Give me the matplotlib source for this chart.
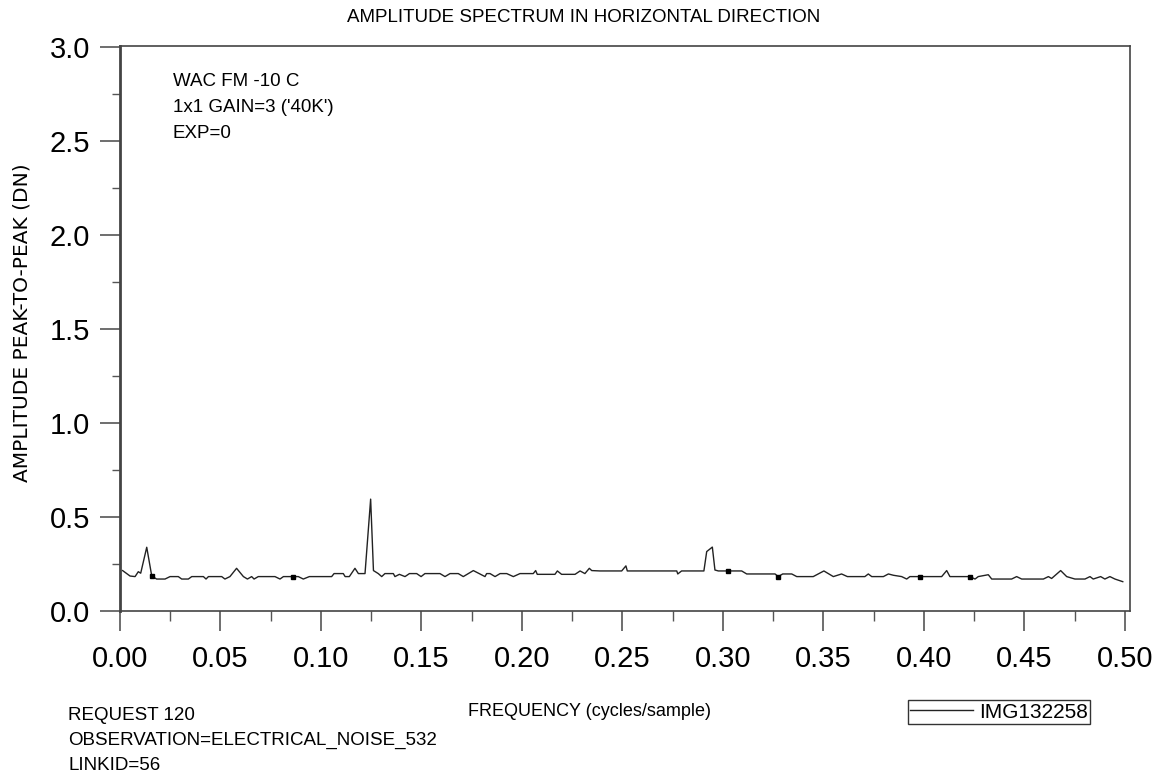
import matplotlib.pyplot as plt
from matplotlib.ticker import MultipleLocator

# amplitude spectrum
freq = [0.0013, 0.0050, 0.0075, 0.0091, 0.0103, 0.0133, 0.0158, 0.0182, 0.0224, 0.0249,
        0.0290, 0.0307, 0.0340, 0.0357, 0.0415, 0.0428, 0.0440, 0.0506, 0.0522, 0.0547,
        0.0580, 0.0614, 0.0634, 0.0655, 0.0667, 0.0688, 0.0771, 0.0796, 0.0813, 0.0862,
        0.0887, 0.0912, 0.0942, 0.1053, 0.1065, 0.1111, 0.1120, 0.1141, 0.1169, 0.1186,
        0.1219, 0.1247, 0.1261, 0.1285, 0.1302, 0.1318, 0.1360, 0.1368, 0.1390, 0.1418,
        0.1440, 0.1476, 0.1498, 0.1517, 0.1592, 0.1617, 0.1642, 0.1683, 0.1708, 0.1758,
        0.1816, 0.1824, 0.1841, 0.1866, 0.1891, 0.1924, 0.1957, 0.1990, 0.2056, 0.2068,
        0.2076, 0.2164, 0.2176, 0.2197, 0.2264, 0.2289, 0.2313, 0.2335, 0.2347, 0.2388,
        0.2496, 0.2517, 0.2524, 0.2770, 0.2775, 0.2794, 0.2905, 0.2919, 0.2947, 0.2960,
        0.2977, 0.3027, 0.3093, 0.3118, 0.3259, 0.3275, 0.3297, 0.3342, 0.3367, 0.3449,
        0.3502, 0.3549, 0.3590, 0.3619, 0.3706, 0.3723, 0.3740, 0.3798, 0.3823, 0.3848,
        0.3889, 0.3914, 0.3930, 0.3980, 0.4088, 0.4113, 0.4129, 0.4229, 0.4254, 0.4270,
        0.4320, 0.4337, 0.4436, 0.4461, 0.4486, 0.4594, 0.4619, 0.4635, 0.4680, 0.4710,
        0.4751, 0.4801, 0.4826, 0.4842, 0.4879, 0.4900, 0.4925, 0.4950, 0.4989]
amp = [0.215, 0.186, 0.183, 0.209, 0.201, 0.339, 0.186, 0.170, 0.170, 0.183,
       0.183, 0.170, 0.170, 0.183, 0.183, 0.170, 0.183, 0.183, 0.170, 0.183,
       0.227, 0.183, 0.170, 0.183, 0.170, 0.183, 0.183, 0.170, 0.183, 0.183,
       0.183, 0.170, 0.183, 0.183, 0.199, 0.199, 0.183, 0.183, 0.227, 0.199,
       0.199, 0.595, 0.215, 0.199, 0.183, 0.199, 0.199, 0.183, 0.195, 0.183,
       0.199, 0.199, 0.183, 0.199, 0.199, 0.183, 0.199, 0.199, 0.183, 0.215,
       0.183, 0.199, 0.199, 0.183, 0.199, 0.199, 0.183, 0.199, 0.199, 0.215,
       0.195, 0.195, 0.213, 0.195, 0.195, 0.213, 0.199, 0.227, 0.215, 0.213,
       0.213, 0.240, 0.213, 0.213, 0.197, 0.213, 0.213, 0.316, 0.340, 0.218,
       0.213, 0.213, 0.213, 0.197, 0.197, 0.183, 0.197, 0.197, 0.183, 0.183,
       0.213, 0.183, 0.197, 0.183, 0.183, 0.197, 0.183, 0.183, 0.197, 0.190,
       0.183, 0.170, 0.183, 0.183, 0.183, 0.215, 0.183, 0.183, 0.170, 0.183,
       0.193, 0.170, 0.170, 0.183, 0.170, 0.170, 0.183, 0.173, 0.215, 0.183,
       0.170, 0.170, 0.183, 0.170, 0.183, 0.170, 0.183, 0.170, 0.156]

# small square markers seen on the trace
mark_freq = [0.0158, 0.0862, 0.3027, 0.3275, 0.3980, 0.4229]
mark_amp = [0.186, 0.183, 0.213, 0.183, 0.183, 0.183]

title = 'AMPLITUDE SPECTRUM IN HORIZONTAL DIRECTION'
info_lines = ['WAC FM -10 C', "1x1 GAIN=3 ('40K')", 'EXP=0']
footer_lines = ['REQUEST 120', 'OBSERVATION=ELECTRICAL_NOISE_532', 'LINKID=56']
series_name = 'IMG132258'

plt.rcParams['font.family'] = ['Liberation Sans', 'DejaVu Sans']
fig = plt.figure(figsize=(11.66, 7.78), dpi=100)
ax = fig.add_axes([120 / 1166, 1 - 611 / 778, 1010 / 1166, 565 / 778])

line, = ax.plot(freq, amp, color='#222222', lw=1.0, label=series_name)
ax.plot(mark_freq, mark_amp, ls='none', marker='s', ms=2.5, color='black')

ax.set_xlim(0, 0.5025)
ax.set_ylim(0, 3.005)
ax.xaxis.set_major_locator(MultipleLocator(0.05))
ax.xaxis.set_minor_locator(MultipleLocator(0.025))
ax.yaxis.set_major_locator(MultipleLocator(0.5))
ax.yaxis.set_minor_locator(MultipleLocator(0.25))
ax.xaxis.set_major_formatter(plt.FuncFormatter(lambda v, p: f'{v:.2f}'))
ax.yaxis.set_major_formatter(plt.FuncFormatter(lambda v, p: f'{v:.1f}'))

ax.tick_params(axis='both', which='major', direction='out', length=14.5, width=1.2,
               color='#555555', labelsize=21)
ax.tick_params(axis='y', which='minor', direction='out', length=6, width=1.0, color='#555555')
ax.tick_params(axis='x', which='minor', direction='out', length=7.5, width=1.0, color='#555555')
ax.tick_params(axis='y', which='major', pad=7)
ax.tick_params(axis='x', which='major', pad=10)
for s in ax.spines.values():
    s.set_color('#444444')
    s.set_linewidth(1.2)
ax.spines['left'].set_linewidth(2.0)

fig.text(584 / 1166, 1 - 18 / 778, title, ha='center', va='center', fontsize=13.5)
fig.text(22 / 1166, 1 - 323 / 778, 'AMPLITUDE PEAK-TO-PEAK (DN)', rotation=90,
         ha='center', va='center', fontsize=14.5, family='DejaVu Sans')
fig.text(589 / 1166, 1 - 711 / 778, 'FREQUENCY (cycles/sample)', ha='center', va='center',
         fontsize=13)

for i, t in enumerate(info_lines):
    fig.text(173 / 1166, 1 - (82 + 26 * i) / 778, t, ha='left', va='center', fontsize=13.5)
for i, t in enumerate(footer_lines):
    fig.text(68 / 1166, 1 - (715 + 25 * i) / 778, t, ha='left', va='center', fontsize=13.5)

leg = fig.legend(handles=[line], loc='center left', bbox_to_anchor=(908 / 1166, 1 - 712 / 778),
                 frameon=True, fancybox=False, fontsize=15, handlelength=3.0,
                 handletextpad=0.3, borderpad=0.1, borderaxespad=0)
leg.get_frame().set_edgecolor('black')
leg.get_frame().set_linewidth(1.0)

fig.savefig('out.png', dpi=100)
